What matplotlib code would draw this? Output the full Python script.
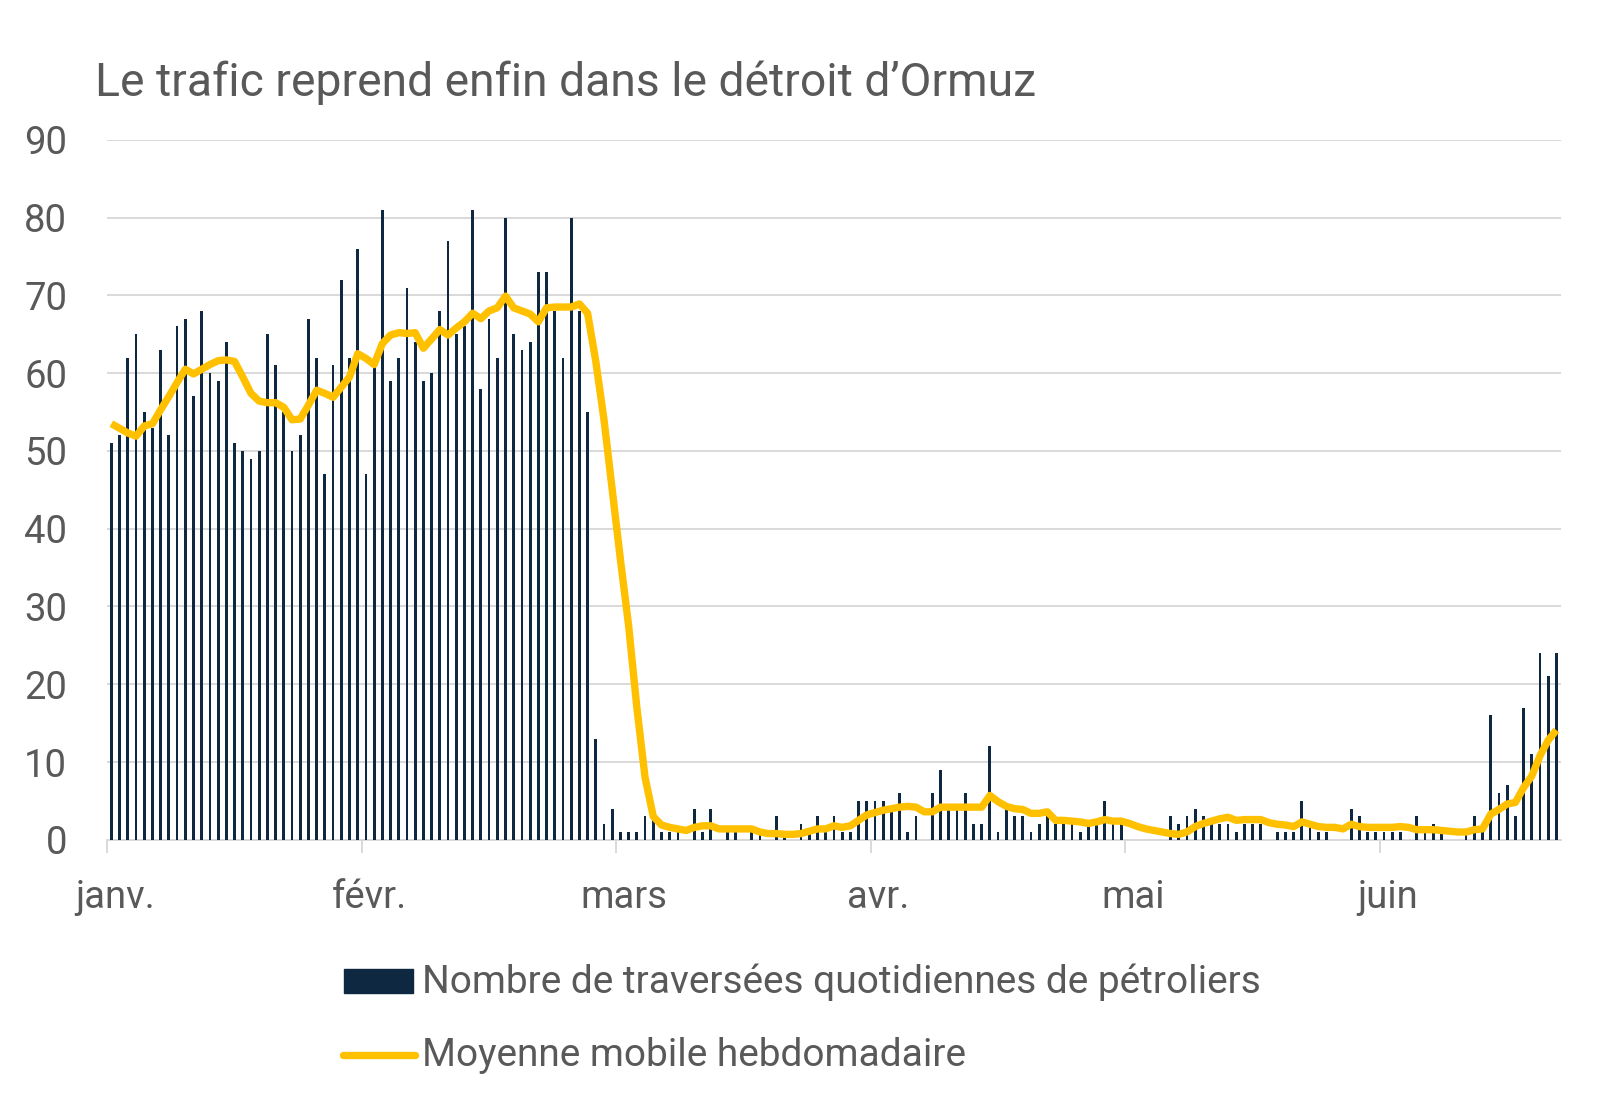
import matplotlib
matplotlib.use("Agg")
import matplotlib.pyplot as plt
from matplotlib.patches import Rectangle
from matplotlib.lines import Line2D
import numpy as np

title = "Le trafic reprend enfin dans le détroit d\u2019Ormuz"
month_labels = ["janv.", "févr.", "mars", "avr.", "mai", "juin"]
legend_bars = "Nombre de traversées quotidiennes de pétroliers"
legend_line = "Moyenne mobile hebdomadaire"

# daily tanker crossings (1 Jan -> 26 Jun)
daily_crossings = [
    51, 52, 62, 65, 55, 53, 63, 52, 66, 67, 57, 68, 60, 59, 64, 51, 50, 49, 50, 65,
    61, 55, 50, 52, 67, 62, 47, 61, 72, 62, 76, 47, 61, 81, 59, 62, 71, 64, 59, 60,
    68, 77, 65, 66, 81, 58, 67, 62, 80, 65, 63, 64, 73, 73, 68, 62, 80, 68, 55, 13,
    2, 4, 1, 1, 1, 3, 3, 1, 1, 1, 0, 4, 1, 4, 0, 1, 1, 0, 1, 1,
    0, 3, 1, 0, 2, 1, 3, 1, 3, 1, 1, 5, 5, 5, 5, 4, 6, 1, 3, 0,
    6, 9, 4, 4, 6, 2, 2, 12, 1, 4, 3, 3, 1, 2, 3, 2, 2, 2, 1, 2,
    2, 5, 2, 2, 0, 0, 0, 0, 0, 3, 2, 3, 4, 3, 2, 2, 2, 1, 2, 2,
    2, 0, 1, 1, 1, 5, 2, 1, 1, 0, 0, 4, 3, 1, 1, 1, 1, 1, 0, 3,
    1, 2, 1, 0, 0, 1, 3, 1, 16, 6, 7, 3, 17, 11, 24, 21, 24,
]

# weekly moving average
weekly_avg = [
    53.5, 52.9, 52.3, 51.9, 53.2, 53.5, 55.3, 57.0, 58.8, 60.5,
    59.9, 60.5, 61.1, 61.6, 61.7, 61.5, 59.5, 57.4, 56.4, 56.2,
    56.2, 55.6, 54.0, 54.1, 55.9, 57.8, 57.4, 56.9, 58.2, 59.5,
    62.5, 61.9, 61.1, 63.8, 64.9, 65.2, 65.1, 65.2, 63.2, 64.4,
    65.6, 64.9, 65.8, 66.6, 67.7, 67.0, 68.0, 68.4, 69.9, 68.4,
    68.0, 67.6, 66.6, 68.4, 68.5, 68.5, 68.5, 68.9, 67.7, 61.5,
    54.0, 45.0, 36.0, 27.5, 17.0, 8.0, 3.0, 1.9, 1.6, 1.4,
    1.2, 1.6, 1.8, 1.8, 1.4, 1.4, 1.4, 1.4, 1.4, 1.0,
    0.8, 0.8, 0.7, 0.7, 0.8, 1.1, 1.4, 1.4, 1.8, 1.6,
    1.8, 2.5, 3.2, 3.5, 3.8, 4.0, 4.2, 4.3, 4.2, 3.6,
    3.6, 4.2, 4.2, 4.2, 4.2, 4.2, 4.2, 5.7, 4.9, 4.3,
    4.0, 3.9, 3.4, 3.4, 3.6, 2.5, 2.5, 2.4, 2.3, 2.1,
    2.3, 2.6, 2.4, 2.4, 2.1, 1.7, 1.4, 1.2, 1.0, 0.8,
    0.7, 1.0, 1.7, 2.1, 2.4, 2.7, 2.9, 2.5, 2.6, 2.6,
    2.6, 2.2, 2.0, 1.9, 1.7, 2.3, 2.0, 1.7, 1.6, 1.6,
    1.4, 2.0, 1.7, 1.6, 1.6, 1.6, 1.6, 1.7, 1.6, 1.3,
    1.3, 1.3, 1.2, 1.1, 1.0, 1.0, 1.3, 1.4, 3.3, 3.9,
    4.6, 4.8, 6.7, 8.2, 10.8, 12.8, 14.1,
]

y_ticks = [0, 10, 20, 30, 40, 50, 60, 70, 80, 90]
month_interval = 31

BAR_COLOR = "#0E2841"
LINE_COLOR = "#FFC000"
TEXT_COLOR = "#595959"
GRID_COLOR = "#D9D9D9"

W, H = 1600, 1109
fig = plt.figure(figsize=(W / 100, H / 100), dpi=100)
plt.rcParams["font.family"] = ["Roboto", "DejaVu Sans"]

def fx(px):
    return px / W

def fy(py):
    return 1 - py / H

left, right, top, bottom = 107.3, 1560.5, 139.8, 839.8
ax = fig.add_axes([fx(left), fy(bottom), fx(right - left), (bottom - top) / H])

n = len(daily_crossings)
x = np.arange(n)
ax.bar(x, daily_crossings, width=0.34, color=BAR_COLOR, zorder=2)
ax.plot(x, weekly_avg, color=LINE_COLOR, lw=5.3, zorder=3,
        solid_joinstyle="round", solid_capstyle="butt")

ax.set_xlim(-0.5, n - 0.5)
ax.set_ylim(0, 90)
ax.set_yticks(y_ticks)
ax.set_yticklabels([str(v) for v in y_ticks])
ax.yaxis.grid(True, color=GRID_COLOR, lw=1.4, zorder=0)
ax.set_axisbelow(True)

for s in ["top", "right", "left"]:
    ax.spines[s].set_visible(False)
ax.spines["bottom"].set_color(GRID_COLOR)
ax.spines["bottom"].set_linewidth(1.4)
ax.spines["bottom"].set_zorder(1)

tick_pos = [k * month_interval - 0.5 for k in range(len(month_labels))]
label_pos = [p + 0.9 for p in tick_pos]
ax.set_xticks(label_pos)
ax.set_xticklabels(month_labels)
ax.set_xticks(tick_pos, minor=True)
ax.tick_params(axis="x", which="major", length=0, pad=28, labelsize=27.5,
               labelcolor=TEXT_COLOR)
ax.tick_params(axis="x", which="minor", length=9, width=1.4, color=GRID_COLOR)
ax.tick_params(axis="y", length=0, pad=29, labelsize=27.5, labelcolor=TEXT_COLOR)

fig.text(fx(95), fy(83), title, fontsize=33.3, color=TEXT_COLOR,
         ha="left", va="center")

# legend
fig.add_artist(Rectangle((fx(344), fy(993)), fx(413) - fx(344), fy(969) - fy(993),
                         transform=fig.transFigure, color=BAR_COLOR))
fig.add_artist(Line2D([fx(343), fx(415)], [fy(1055), fy(1055)],
                      transform=fig.transFigure, color=LINE_COLOR, lw=5.3,
                      solid_capstyle="round"))
fig.text(fx(422), fy(982), legend_bars, fontsize=28, color=TEXT_COLOR,
         ha="left", va="center")
fig.text(fx(422), fy(1056), legend_line, fontsize=28, color=TEXT_COLOR,
         ha="left", va="center")

fig.savefig("out.png", dpi=100, facecolor="white")
